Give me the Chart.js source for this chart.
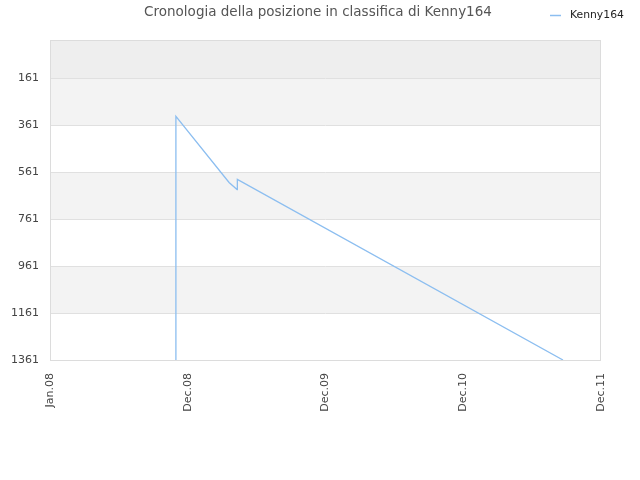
<!DOCTYPE html>
<html><head><meta charset="utf-8">
<script src="https://cdn.jsdelivr.net/npm/chart.js@4"></script>
<style>html,body{margin:0;padding:0;background:#fff}#wrap{width:640px;height:480px}</style>
</head><body><div id="wrap"><canvas id="c" width="640" height="480"></canvas></div>
<script>
const titleText = "Cronologia della posizione in classifica di Kenny164";
const seriesName = "Kenny164";
const xTickLabels = ["Jan.08", "Dec.08", "Dec.09", "Dec.10", "Dec.11"];
const xPositions = [0.914, 0.914, 1.30, 1.358, 1.36, 3.724];
const rankValues = [1361, 323, 605, 635, 592, 1361];
const yTickValues = [161, 361, 561, 761, 961, 1161, 1361];
const yMin = -2, yMax = 1361;

const points = xPositions.map((x, i) => ({x: x, y: rankValues[i]}));
const FONT = "'DejaVu Sans', sans-serif";

const frame = {
  id: 'frame',
  beforeDraw(chart) {
    const {ctx, chartArea: a, scales: {y}} = chart;
    ctx.save();
    ctx.fillStyle = '#eeeeee';
    ctx.fillRect(a.left, a.top, a.right - a.left, y.getPixelForValue(yTickValues[0]) - a.top);
    for (let i = 0; i < yTickValues.length - 1; i++) {
      if (i % 2 === 0) {
        const t = y.getPixelForValue(yTickValues[i]);
        const b = y.getPixelForValue(yTickValues[i + 1]);
        ctx.fillStyle = '#f3f3f3';
        ctx.fillRect(a.left, t, a.right - a.left, b - t);
      }
    }
    ctx.restore();
  },
  afterDraw(chart) {
    const {ctx, chartArea: a} = chart;
    ctx.save();
    ctx.strokeStyle = '#dcdcdc';
    ctx.lineWidth = 1;
    ctx.strokeRect(Math.round(a.left) + 0.5, Math.round(a.top) + 0.5, Math.round(a.right - a.left) - 1, Math.round(a.bottom - a.top));
    ctx.fillStyle = '#555';
    ctx.font = "13.5px " + FONT;
    ctx.textAlign = 'center';
    ctx.textBaseline = 'middle';
    ctx.fillText(titleText, 318, 12);
    const ds = chart.data.datasets[0];
    ctx.strokeStyle = ds.borderColor;
    ctx.lineWidth = 1.5;
    ctx.beginPath(); ctx.moveTo(550, 15.5); ctx.lineTo(561, 15.5); ctx.stroke();
    ctx.fillStyle = '#222';
    ctx.font = "10.8px " + FONT;
    ctx.textAlign = 'left';
    ctx.fillText(ds.label, 570, 15);
    ctx.restore();
  }
};

new Chart(document.getElementById('c'), {
  type: 'line',
  data: { datasets: [{ label: seriesName, data: points, borderColor: 'rgb(140,190,240)', borderWidth: 1.3, pointRadius: 0, fill: false, tension: 0 }] },
  options: {
    responsive: false, animation: false, devicePixelRatio: 1,
    layout: { padding: { top: 40, right: 39, left: 0, bottom: 0 } },
    plugins: { legend: { display: false }, title: { display: false }, tooltip: { enabled: false } },
    scales: {
      x: {
        type: 'linear', min: 0, max: xTickLabels.length - 1,
        afterBuildTicks(s) { s.ticks = xTickLabels.map((_, i) => ({ value: i })); },
        afterFit(s) { s.height = 120; },
        grid: { display: false, drawTicks: false },
        border: { display: false },
        ticks: { minRotation: 90, maxRotation: 90, padding: 13, color: '#444', font: { family: FONT, size: 11 }, callback: (v) => xTickLabels[v] }
      },
      y: {
        type: 'linear', reverse: true, min: yMin, max: yMax,
        afterBuildTicks(s) { s.ticks = yTickValues.map(v => ({ value: v })); },
        afterFit(s) { s.width = 50; },
        grid: { color: '#e0e0e0', drawTicks: false },
        border: { display: false },
        ticks: { padding: 11, color: '#444', font: { family: FONT, size: 11 }, callback: (v) => String(v) }
      }
    }
  },
  plugins: [frame]
});
</script></body></html>
